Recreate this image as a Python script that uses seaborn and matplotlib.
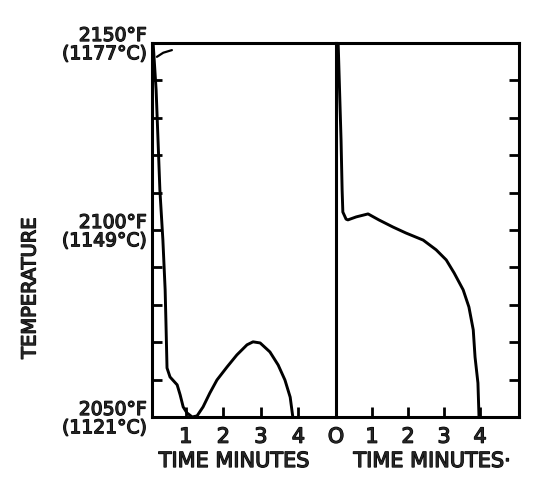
import matplotlib
matplotlib.use("Agg")
import matplotlib.pyplot as plt
import matplotlib.patheffects as pe
import numpy as np
import pandas as pd
import seaborn as sns

# left chart: temperature (deg F) against time (minutes)
left_t = [0.13, 0.21, 0.26, 0.31, 0.39, 0.45, 0.47, 0.50, 0.58, 0.77, 0.85, 0.93,
          1.03, 1.17, 1.30, 1.46, 1.64, 1.83, 2.10, 2.36, 2.63, 2.79, 2.98, 3.24,
          3.46, 3.64, 3.78, 3.85]
left_f = [2150, 2137.4, 2124.1, 2110.7, 2097.3, 2084.0, 2075.9, 2063.1, 2060.7,
          2058.6, 2055.9, 2052.7, 2051.1, 2050.0, 2050.3, 2052.7, 2056.4, 2059.9,
          2063.4, 2066.6, 2069.3, 2070.1, 2069.8, 2067.4, 2063.9, 2059.9, 2055.3, 2050]

# stray stroke near the top of the left chart
stroke_t = [0.23, 0.40, 0.63]
stroke_f = [2146.3, 2147.4, 2148.1]

# right chart
right_t = [0.06, 0.14, 0.17, 0.19, 0.28, 0.33, 0.56, 0.89, 1.19, 1.58, 1.94, 2.42,
           2.78, 3.06, 3.28, 3.53, 3.69, 3.81, 3.86, 3.94, 3.97]
right_f = [2150, 2124.1, 2110.7, 2104.8, 2102.9, 2102.7, 2103.5, 2104.3, 2102.7,
           2100.8, 2099.2, 2097.3, 2094.7, 2092.0, 2088.5, 2084.0, 2079.4, 2073.3,
           2066.0, 2059.1, 2050]

y_major = [2050, 2100, 2150]
y_labels = ["2050°F\n(1121°C)", "2100°F\n(1149°C)", "2150°F\n(1177°C)"]
y_minor = list(range(2060, 2150, 10))
left_xticks = [1, 2, 3, 4]
right_xticks = [0, 1, 2, 3, 4]

sns.set_style("white")
plt.rcParams['font.family'] = ['DejaVu Sans']

fx = [pe.withStroke(linewidth=0.9, foreground="black")]
lw_axis = 2.2
lw_curve = 2.1

fig = plt.figure(figsize=(5.44, 4.86), dpi=100)
ax1 = fig.add_axes([152 / 544, 69 / 486, 184 / 544, 374 / 486])
ax2 = fig.add_axes([336 / 544, 69 / 486, 183 / 544, 374 / 486])

left_df = pd.DataFrame({"t": left_t, "f": left_f})
right_df = pd.DataFrame({"t": right_t, "f": right_f})

sns.lineplot(data=left_df, x="t", y="f", ax=ax1, color="black", lw=lw_curve,
             sort=False, solid_joinstyle="round", solid_capstyle="round")
sns.lineplot(x=stroke_t, y=stroke_f, ax=ax1, color="black", lw=1.6, sort=False)
sns.lineplot(data=right_df, x="t", y="f", ax=ax2, color="black", lw=lw_curve,
             sort=False, solid_joinstyle="round", solid_capstyle="round")

for ax in (ax1, ax2):
    ax.set_ylim(2050, 2150)
    ax.set_xlabel("")
    ax.set_ylabel("")
    for s in ax.spines.values():
        s.set_linewidth(lw_axis)
        s.set_color("black")
    ax.set_facecolor("none")

ax1.set_xlim(0.1, 5.0)
ax2.set_xlim(0, 5.08)
ax1.spines["right"].set_visible(False)

tick_kw = dict(direction="in", length=7, width=2, color="black")

# left panel ticks
ax1.set_xticks(left_xticks)
ax1.set_xticklabels([str(v) for v in left_xticks])
ax1.set_yticks(y_major)
ax1.set_yticklabels(y_labels, fontsize=13.5, linespacing=0.95)
ax1.set_yticks(y_minor, minor=True)
ax1.tick_params(axis="both", which="both", left=True, bottom=True, **tick_kw)
ax1.tick_params(axis="x", labelsize=15, pad=7)
ax1.tick_params(axis="y", pad=4)

# right panel ticks
ax2.set_xticks(right_xticks)
ax2.set_xticklabels(["O"] + [str(v) for v in right_xticks[1:]])
ax2.set_yticks(y_major)
ax2.set_yticks(y_minor, minor=True)
ax2.tick_params(axis="y", which="both", left=False, right=True, labelleft=False,
                **tick_kw)
ax2.tick_params(axis="x", bottom=True, labelsize=15, pad=7, **tick_kw)

for lab in ax1.get_xticklabels() + ax1.get_yticklabels() + ax2.get_xticklabels():
    lab.set_path_effects(fx)

fig.text(234 / 544, 1 - 461 / 486, "TIME MINUTES", ha="center", va="center",
         fontsize=15, path_effects=fx)
fig.text(432 / 544, 1 - 461 / 486, "TIME MINUTES·", ha="center", va="center",
         fontsize=15, path_effects=fx)
fig.text(30 / 544, 1 - 288 / 486, "TEMPERATURE", ha="center", va="center",
         rotation=90, fontsize=14, path_effects=fx)

fig.savefig("out.png", dpi=100, facecolor="white")
